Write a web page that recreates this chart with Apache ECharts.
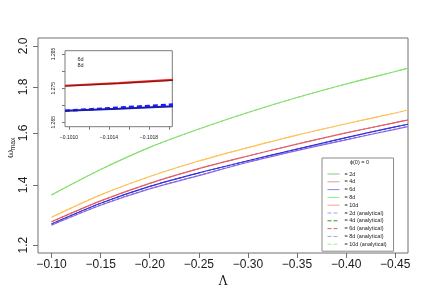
<!DOCTYPE html>
<html><head><meta charset="utf-8">
<script src="https://cdn.jsdelivr.net/npm/echarts@6/dist/echarts.min.js"></script>
<style>html,body{margin:0;padding:0;background:#fff}#c{width:432px;height:300px}</style>
</head><body><div id="c"></div>
<script>
// ---- data ----
const lambda = [-0.10, -0.15, -0.20, -0.25, -0.30, -0.35, -0.40, -0.45, -0.463];
const w2d  = [1.365, 1.457, 1.542, 1.616, 1.686, 1.752, 1.814, 1.873, 1.889];
const w4d  = [1.289, 1.365, 1.431, 1.489, 1.541, 1.591, 1.638, 1.684, 1.697];
const w6d  = [1.274, 1.344, 1.406, 1.460, 1.508, 1.555, 1.600, 1.643, 1.654];
const w8d  = [1.267, 1.336, 1.395, 1.444, 1.490, 1.535, 1.581, 1.625, 1.636];
const w10d = [1.263, 1.329, 1.386, 1.434, 1.484, 1.529, 1.572, 1.615, 1.626];
const a2d  = [1.365, 1.457, 1.542, 1.616, 1.686, 1.752, 1.814, 1.873, 1.889];
const a4d  = [1.289, 1.365, 1.431, 1.489, 1.541, 1.591, 1.638, 1.684, 1.697];
const a6d  = [1.274, 1.344, 1.406, 1.460, 1.508, 1.555, 1.600, 1.643, 1.654];
const a8d  = [1.267, 1.336, 1.395, 1.444, 1.490, 1.535, 1.581, 1.625, 1.636];
const a10d = [1.264, 1.330, 1.387, 1.435, 1.485, 1.530, 1.573, 1.616, 1.627];
const xTicks = [-0.10, -0.15, -0.20, -0.25, -0.30, -0.35, -0.40, -0.45];
const yTicks = [1.2, 1.4, 1.6, 1.8, 2.0];
// inset
const insetLambda = [-0.10096, -0.1015, -0.10204];
const in6d  = [1.2757, 1.2765, 1.2774];
const in6dA = [1.2756, 1.2764, 1.2773];
const in8d  = [1.2684, 1.2690, 1.2697];
const in8dA = [1.2684, 1.2693, 1.2702];
const in8dB = [1.2683, 1.2690, 1.2696];
const insetXTicks = [-0.1010, -0.1012, -0.1014, -0.1016, -0.1018, -0.1020];
const insetXLabels = [-0.1010, -0.1014, -0.1018];
const insetYTicks = [1.265, 1.270, 1.275, 1.280, 1.285];
const insetYLabels = [1.265, 1.275, 1.285];
const legendNames = ['2d','4d','6d','8d','10d','2d (analytical)','4d (analytical)','6d (analytical)','8d (analytical)','10d (analytical)'];

const FONT = 'Liberation Sans';
const minus = s => s.replace('-', '\u2212');
const pts = (xs, ys) => xs.map((x, i) => [x, Math.log(ys[i])]);
const ptsLin = (xs, ys) => xs.map((x, i) => [x, ys[i]]);

function mainLine(name, ys, color, dashed) {
  return {
    name, type: 'line', xAxisIndex: 0, yAxisIndex: 0, data: pts(lambda, ys),
    symbol: 'none', smooth: 0.3, z: dashed ? 3 : 2,
    lineStyle: {color, width: dashed ? 1 : 1.2, type: dashed ? [3, 2] : 'solid'},
    itemStyle: {color}
  };
}
function insetLine(name, ys, color, width, dashed, z) {
  return {
    name, type: 'line', xAxisIndex: 1, yAxisIndex: 1, data: ptsLin(insetLambda, ys),
    symbol: 'none', z: z,
    lineStyle: {color, width, type: dashed ? [5, 3] : 'solid'}
  };
}

const legendStyle = [
  ['#8cc48c','solid'], ['#d9a0a6','solid'], ['#8a8ad8','solid'], ['#8ef08e','solid'], ['#f5a0a0','solid'],
  ['#a0a0f5','dashed'], ['#3c8c3c','dashed'], ['#c07070','dashed'], ['#a0a0e0','dashed'], ['#a0f0a0','dashed']
];

const option = {
  animation: false,
  backgroundColor: '#fff',
  textStyle: {fontFamily: FONT},
  grid: [
    {left: 38, top: 38, width: 370, height: 215, show: true, borderColor: '#707070', borderWidth: 1, backgroundColor: 'transparent'},
    {left: 65, top: 50.7, width: 107.3, height: 76, show: true, borderColor: '#7a7a7a', borderWidth: 1, backgroundColor: '#fff', z: 10}
  ],
  xAxis: [
    {type: 'value', gridIndex: 0, inverse: true, min: -0.463, max: -0.0862,
     axisLine: {show: false}, splitLine: {show: false},
     axisTick: {show: true, length: 5, customValues: xTicks, lineStyle: {color: '#707070'}},
     axisLabel: {customValues: xTicks, fontSize: 12, color: '#1a1a1a', margin: 6, fontFamily: FONT,
                 formatter: v => minus(v.toFixed(2))},
     name: 'Λ', nameLocation: 'middle', nameGap: 22,
     nameTextStyle: {fontSize: 12, color: '#1a1a1a', fontFamily: 'DejaVu Serif'}},
    {type: 'value', gridIndex: 1, inverse: true, min: -0.102033, max: -0.10096, z: 12,
     axisLine: {show: false}, splitLine: {show: false},
     axisTick: {show: true, length: 3, customValues: insetXTicks, lineStyle: {color: '#7a7a7a'}},
     axisLabel: {customValues: insetXLabels, fontSize: 5, color: '#1a1a1a', margin: 8, fontFamily: FONT,
                 formatter: v => minus(v.toFixed(4))}}
  ],
  yAxis: [
    {type: 'value', gridIndex: 0, min: Math.log(1.176), max: Math.log(2.041),
     axisLine: {show: false}, splitLine: {show: false},
     axisTick: {show: true, length: 5, customValues: yTicks.map(Math.log), lineStyle: {color: '#707070'}},
     axisLabel: {customValues: yTicks.map(Math.log), rotate: 90, fontSize: 12, color: '#1a1a1a', margin: 8, fontFamily: FONT,
                 formatter: v => Math.exp(v).toFixed(1)}},
    {type: 'value', gridIndex: 1, min: 1.26371, max: 1.28597, z: 12,
     axisLine: {show: false}, splitLine: {show: false},
     axisTick: {show: true, length: 3, customValues: insetYTicks, lineStyle: {color: '#7a7a7a'}},
     axisLabel: {customValues: insetYLabels, rotate: 90, fontSize: 5, color: '#1a1a1a', margin: 9, fontFamily: FONT,
                 formatter: v => v.toFixed(3)}}
  ],
  legend: {
    left: 322, top: 158, orient: 'vertical', selectedMode: false,
    padding: [13, 7, 4, 5], itemWidth: 12, itemHeight: 6, itemGap: 1.8,
    borderColor: '#8a8a8a', borderWidth: 1, backgroundColor: '#fff',
    textStyle: {fontSize: 5.5, color: '#222', lineHeight: 6, fontFamily: FONT},
    formatter: n => '= ' + n,
    data: legendNames.map((n, i) => ({name: n,
      lineStyle: {color: legendStyle[i][0], type: legendStyle[i][1], width: 1},
      itemStyle: {color: 'rgba(0,0,0,0)', borderColor: 'rgba(0,0,0,0)', borderWidth: 0, opacity: 0}}))
  },
  graphic: [
    {type: 'text', x: 359.5, y: 162, z: 100, style: {text: 'ϕ(0) = 0', fontSize: 5.5, fontFamily: FONT, fill: '#222', align: 'center', verticalAlign: 'middle'}},
    {type: 'text', x: 77.5, y: 59, z: 100, style: {text: '6d', fontSize: 5.5, fontFamily: FONT, fill: '#222', align: 'left', verticalAlign: 'middle'}},
    {type: 'text', x: 77.5, y: 65.7, z: 100, style: {text: '8d', fontSize: 5.5, fontFamily: FONT, fill: '#222', align: 'left', verticalAlign: 'middle'}},
    {type: 'text', x: 10, y: 154, rotation: Math.PI / 2, z: 100, style: {text: 'ω', fontSize: 10, fontFamily: 'DejaVu Serif', fill: '#1a1a1a', align: 'center', verticalAlign: 'middle'}},
    {type: 'text', x: 13.5, y: 144, rotation: Math.PI / 2, z: 100, style: {text: 'max', fontSize: 7, fontFamily: FONT, fill: '#1a1a1a', align: 'center', verticalAlign: 'middle'}}
  ],
  series: [
    mainLine('2d', w2d, '#86e070', false),
    mainLine('4d', w4d, '#ffc25c', false),
    mainLine('6d', w6d, '#e35f66', false),
    mainLine('8d', w8d, '#3434d6', false),
    mainLine('10d', w10d, '#a46fe0', false),
    mainLine('2d (analytical)', a2d, '#86e070', true),
    mainLine('4d (analytical)', a4d, '#ffc25c', true),
    mainLine('6d (analytical)', a6d, '#e35f66', true),
    mainLine('8d (analytical)', a8d, '#3434d6', true),
    mainLine('10d (analytical)', a10d, '#6a6ae6', true),
    insetLine('inset 6d', in6d, '#ff1a1a', 2.2, false, 11),
    insetLine('inset 6d a', in6dA, '#222', 0.7, false, 12),
    insetLine('inset 8d', in8d, '#1a1aff', 2, false, 11),
    insetLine('inset 8d a', in8dA, '#1a1aff', 2.4, true, 12),
    insetLine('inset 8d b', in8dB, '#222', 0.7, false, 13)
  ]
};
echarts.init(document.getElementById('c'), null, {renderer: 'canvas'}).setOption(option);
</script></body></html>
